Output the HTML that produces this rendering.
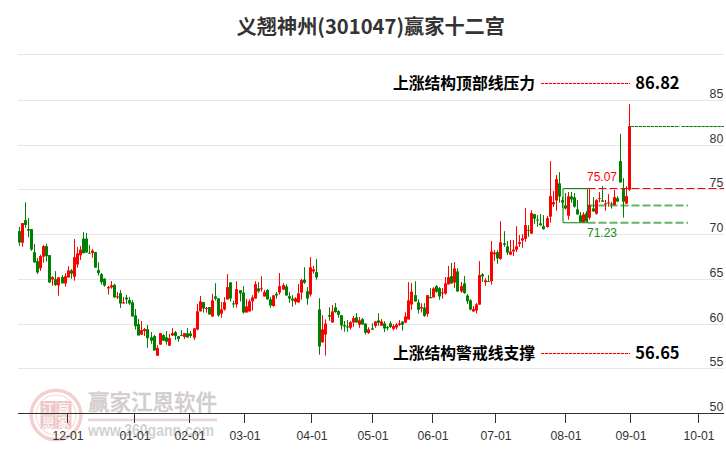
<!DOCTYPE html>
<html lang="zh-CN"><head><meta charset="utf-8"><title>义翘神州(301047)赢家十二宫</title>
<style>html,body{margin:0;padding:0;background:#fff;overflow:hidden}svg{display:block}text{font-family:"Liberation Sans","Noto Sans CJK SC",sans-serif}.cjk{font-family:"Noto Sans CJK SC","Liberation Sans",sans-serif;font-weight:700}.ax{font-size:13px;fill:#333}</style></head><body>
<svg width="726" height="450" viewBox="0 0 726 450">
<rect width="726" height="450" fill="#fff"/>
<g stroke="#e6e6e6" stroke-width="1" shape-rendering="crispEdges">
<line x1="18" x2="724" y1="54.5" y2="54.5"/>
<line x1="18" x2="724" y1="100.5" y2="100.5"/>
<line x1="18" x2="724" y1="145.5" y2="145.5"/>
<line x1="18" x2="724" y1="189.5" y2="189.5"/>
<line x1="18" x2="724" y1="234.5" y2="234.5"/>
<line x1="18" x2="724" y1="279.5" y2="279.5"/>
<line x1="18" x2="724" y1="324.5" y2="324.5"/>
<line x1="18" x2="724" y1="368.5" y2="368.5"/>
</g>
<g id="wm">
<g fill="none" stroke="#ecbcbc"><circle cx="56" cy="415" r="24.8" stroke-width="3.4" stroke-opacity=".7"/><circle cx="56" cy="415" r="20" stroke-width="1" stroke-opacity=".65"/></g>
<rect x="40.5" y="401" width="31" height="28" rx="2" fill="#e9b6b6" fill-opacity=".8"/><path d="M56 401V429M40.5 415H71.5" stroke="#f6e3e3" stroke-width="1.2"/>
<g font-size="13" fill="#fbf1f1" text-anchor="middle"><text class="cjk" x="48.2" y="412.8">江</text><text class="cjk" x="63.8" y="412.8">赢</text><text class="cjk" x="48.2" y="426.8">恩</text><text class="cjk" x="63.8" y="426.8">家</text></g>
<text x="88" y="409.5" font-size="21.5" fill="#d2cccc" stroke="#d2cccc" stroke-width=".35" style="font-family:'Noto Sans CJK SC',sans-serif;font-weight:500" textLength="129" lengthAdjust="spacingAndGlyphs">赢家江恩软件</text>
<rect x="88" y="418.6" width="129" height="2.6" fill="#ebd5d5"/>
<text x="88" y="435.8" font-size="17" fill="#d2d2d2" font-weight="700" textLength="126" lengthAdjust="spacingAndGlyphs">www.360gann.com</text>
</g>
<g stroke="#333" stroke-width="1" shape-rendering="crispEdges">
<line x1="18" x2="724" y1="413.5" y2="413.5"/>
<line x1="67.5" x2="67.5" y1="413" y2="423"/>
<line x1="134.5" x2="134.5" y1="413" y2="423"/>
<line x1="189.5" x2="189.5" y1="413" y2="423"/>
<line x1="244.5" x2="244.5" y1="413" y2="423"/>
<line x1="311.5" x2="311.5" y1="413" y2="423"/>
<line x1="372.5" x2="372.5" y1="413" y2="423"/>
<line x1="432.5" x2="432.5" y1="413" y2="423"/>
<line x1="495.5" x2="495.5" y1="413" y2="423"/>
<line x1="565.5" x2="565.5" y1="413" y2="423"/>
<line x1="630.5" x2="630.5" y1="413" y2="423"/>
<line x1="698.5" x2="698.5" y1="413" y2="423"/>
</g>
<g class="ax" text-anchor="middle">
<text x="68.0" y="439.9" textLength="31.2" lengthAdjust="spacingAndGlyphs">12-01</text>
<text x="135.0" y="439.9" textLength="31.2" lengthAdjust="spacingAndGlyphs">01-01</text>
<text x="190.0" y="439.9" textLength="31.2" lengthAdjust="spacingAndGlyphs">02-01</text>
<text x="245.0" y="439.9" textLength="31.2" lengthAdjust="spacingAndGlyphs">03-01</text>
<text x="312.0" y="439.9" textLength="31.2" lengthAdjust="spacingAndGlyphs">04-01</text>
<text x="373.0" y="439.9" textLength="31.2" lengthAdjust="spacingAndGlyphs">05-01</text>
<text x="433.0" y="439.9" textLength="31.2" lengthAdjust="spacingAndGlyphs">06-01</text>
<text x="496.0" y="439.9" textLength="31.2" lengthAdjust="spacingAndGlyphs">07-01</text>
<text x="566.0" y="439.9" textLength="31.2" lengthAdjust="spacingAndGlyphs">08-01</text>
<text x="631.0" y="439.9" textLength="31.2" lengthAdjust="spacingAndGlyphs">09-01</text>
<text x="699.0" y="439.9" textLength="31.2" lengthAdjust="spacingAndGlyphs">10-01</text>
</g>
<g class="ax" text-anchor="end">
<text x="723.3" y="97.9" textLength="13.7" lengthAdjust="spacingAndGlyphs">85</text>
<text x="723.3" y="142.9" textLength="13.7" lengthAdjust="spacingAndGlyphs">80</text>
<text x="723.3" y="186.9" textLength="13.7" lengthAdjust="spacingAndGlyphs">75</text>
<text x="723.3" y="231.9" textLength="13.7" lengthAdjust="spacingAndGlyphs">70</text>
<text x="723.3" y="276.9" textLength="13.7" lengthAdjust="spacingAndGlyphs">65</text>
<text x="723.3" y="321.9" textLength="13.7" lengthAdjust="spacingAndGlyphs">60</text>
<text x="723.3" y="365.9" textLength="13.7" lengthAdjust="spacingAndGlyphs">55</text>
<text x="723.3" y="410.9" textLength="13.7" lengthAdjust="spacingAndGlyphs">50</text>
</g>
<path d="M631 126.5H679.5M681.5 126.5H724" stroke="#008000" stroke-width="1" stroke-dasharray="3.3 .7" fill="none"/>
<g fill="#008000">
<rect x="19" y="227.0" width="1" height="18.8"/><rect x="18" y="231.1" width="3" height="11.5" rx=".6"/>
<rect x="25" y="202.2" width="1" height="25.5"/><rect x="24" y="220.1" width="3" height="4.8" rx=".6"/>
<rect x="28" y="218.0" width="1" height="19.3"/><rect x="27" y="229.1" width="3" height="1.6" rx=".6"/>
<rect x="31" y="229.1" width="1" height="21.7"/><rect x="30" y="229.1" width="3" height="20.4" rx=".6"/>
<rect x="34" y="244.1" width="1" height="18.5"/><rect x="33" y="252.0" width="3" height="10.6" rx=".6"/>
<rect x="37" y="258.1" width="1" height="15.8"/><rect x="36" y="260.9" width="3" height="11.7" rx=".6"/>
<rect x="46" y="243.9" width="1" height="17.6"/><rect x="45" y="246.1" width="3" height="10.2" rx=".6"/>
<rect x="49" y="254.9" width="1" height="27.7"/><rect x="48" y="254.9" width="3" height="27.7" rx=".6"/>
<rect x="55" y="271.1" width="1" height="14.9"/><rect x="54" y="279.0" width="3" height="6.0" rx=".6"/>
<rect x="62" y="275.1" width="1" height="8.3"/><rect x="61" y="277.1" width="3" height="6.3" rx=".6"/>
<rect x="71" y="269.0" width="1" height="9.7"/><rect x="70" y="270.2" width="3" height="3.6" rx=".6"/>
<rect x="83" y="232.1" width="1" height="21.2"/><rect x="82" y="238.4" width="3" height="14.9" rx=".6"/>
<rect x="86" y="232.9" width="1" height="19.7"/><rect x="85" y="238.4" width="3" height="14.2" rx=".6"/>
<rect x="89" y="245.1" width="1" height="8.5"/><rect x="88" y="252.8" width="3" height="1.0" rx=".6"/>
<rect x="95" y="251.9" width="1" height="15.8"/><rect x="94" y="251.9" width="3" height="15.8" rx=".6"/>
<rect x="98" y="262.2" width="1" height="13.4"/><rect x="97" y="270.1" width="3" height="3.2" rx=".6"/>
<rect x="101" y="273.0" width="1" height="11.6"/><rect x="100" y="274.0" width="3" height="8.3" rx=".6"/>
<rect x="104" y="278.5" width="1" height="8.3"/><rect x="103" y="278.5" width="3" height="7.1" rx=".6"/>
<rect x="114" y="283.8" width="1" height="13.8"/><rect x="113" y="284.8" width="3" height="12.8" rx=".6"/>
<rect x="120" y="290.0" width="1" height="17.9"/><rect x="119" y="293.1" width="3" height="10.4" rx=".6"/>
<rect x="126" y="294.9" width="1" height="8.9"/><rect x="125" y="297.6" width="3" height="1.8" rx=".6"/>
<rect x="129" y="296.9" width="1" height="8.0"/><rect x="128" y="300.0" width="3" height="3.5" rx=".6"/>
<rect x="132" y="300.0" width="1" height="16.5"/><rect x="131" y="302.2" width="3" height="14.3" rx=".6"/>
<rect x="135" y="309.0" width="1" height="20.6"/><rect x="134" y="315.2" width="3" height="11.0" rx=".6"/>
<rect x="138" y="319.0" width="1" height="16.5"/><rect x="137" y="324.1" width="3" height="11.4" rx=".6"/>
<rect x="147" y="324.9" width="1" height="22.8"/><rect x="146" y="329.1" width="3" height="9.1" rx=".6"/>
<rect x="151" y="332.0" width="1" height="11.8"/><rect x="150" y="337.2" width="3" height="3.6" rx=".6"/>
<rect x="154" y="335.0" width="1" height="15.6"/><rect x="153" y="336.0" width="3" height="14.6" rx=".6"/>
<rect x="163" y="334.0" width="1" height="6.8"/><rect x="162" y="335.0" width="3" height="5.8" rx=".6"/>
<rect x="166" y="331.1" width="1" height="13.6"/><rect x="165" y="337.2" width="3" height="4.6" rx=".6"/>
<rect x="175" y="331.0" width="1" height="8.9"/><rect x="174" y="332.0" width="3" height="3.9" rx=".6"/>
<rect x="178" y="335.9" width="1" height="5.9"/><rect x="177" y="335.9" width="3" height="3.0" rx=".6"/>
<rect x="181" y="330.1" width="1" height="5.7"/><rect x="180" y="335.0" width="3" height="1.0" rx=".6"/>
<rect x="187" y="328.1" width="1" height="9.5"/><rect x="186" y="333.3" width="3" height="4.3" rx=".6"/>
<rect x="190" y="331.0" width="1" height="6.9"/><rect x="189" y="333.3" width="3" height="2.7" rx=".6"/>
<rect x="203" y="302.1" width="1" height="10.5"/><rect x="202" y="302.1" width="3" height="6.4" rx=".6"/>
<rect x="209" y="307.1" width="1" height="7.5"/><rect x="208" y="307.1" width="3" height="7.5" rx=".6"/>
<rect x="215" y="283.2" width="1" height="17.3"/><rect x="214" y="296.2" width="3" height="2.6" rx=".6"/>
<rect x="218" y="298.3" width="1" height="18.4"/><rect x="217" y="298.3" width="3" height="17.1" rx=".6"/>
<rect x="230" y="282.2" width="1" height="19.3"/><rect x="229" y="282.2" width="3" height="16.3" rx=".6"/>
<rect x="233" y="300.8" width="1" height="6.8"/><rect x="232" y="303.2" width="3" height="1.2" rx=".6"/>
<rect x="240" y="290.0" width="1" height="11.5"/><rect x="239" y="290.0" width="3" height="3.5" rx=".6"/>
<rect x="243" y="286.1" width="1" height="27.6"/><rect x="242" y="292.5" width="3" height="20.1" rx=".6"/>
<rect x="258" y="282.2" width="1" height="10.6"/><rect x="257" y="288.2" width="3" height="3.4" rx=".6"/>
<rect x="267" y="289.0" width="1" height="10.4"/><rect x="266" y="290.1" width="3" height="9.3" rx=".6"/>
<rect x="270" y="296.9" width="1" height="10.8"/><rect x="269" y="299.2" width="3" height="6.3" rx=".6"/>
<rect x="276" y="292.0" width="1" height="6.7"/><rect x="275" y="293.8" width="3" height="1.8" rx=".6"/>
<rect x="286" y="284.1" width="1" height="11.5"/><rect x="285" y="286.2" width="3" height="9.4" rx=".6"/>
<rect x="289" y="292.2" width="1" height="10.6"/><rect x="288" y="296.1" width="3" height="2.6" rx=".6"/>
<rect x="292" y="295.1" width="1" height="11.6"/><rect x="291" y="298.5" width="3" height="2.1" rx=".6"/>
<rect x="304" y="267.2" width="1" height="16.6"/><rect x="303" y="279.4" width="3" height="3.4" rx=".6"/>
<rect x="307" y="287.1" width="1" height="17.6"/><rect x="306" y="291.0" width="3" height="7.7" rx=".6"/>
<rect x="316" y="259.1" width="1" height="20.5"/><rect x="315" y="272.1" width="3" height="5.4" rx=".6"/>
<rect x="319" y="298.2" width="1" height="56.5"/><rect x="318" y="309.2" width="3" height="37.3" rx=".6"/>
<rect x="329" y="307.2" width="1" height="13.7"/><rect x="328" y="315.1" width="3" height="1.6" rx=".6"/>
<rect x="335" y="303.0" width="1" height="9.8"/><rect x="334" y="307.2" width="3" height="4.9" rx=".6"/>
<rect x="338" y="310.2" width="1" height="7.5"/><rect x="337" y="310.9" width="3" height="3.9" rx=".6"/>
<rect x="341" y="315.1" width="1" height="14.6"/><rect x="340" y="315.1" width="3" height="10.4" rx=".6"/>
<rect x="344" y="320.9" width="1" height="10.8"/><rect x="343" y="325.1" width="3" height="1.4" rx=".6"/>
<rect x="347" y="319.9" width="1" height="11.8"/><rect x="346" y="326.3" width="3" height="1.2" rx=".6"/>
<rect x="356" y="313.1" width="1" height="9.5"/><rect x="355" y="317.3" width="3" height="5.3" rx=".6"/>
<rect x="362" y="318.0" width="1" height="6.5"/><rect x="361" y="319.0" width="3" height="5.5" rx=".6"/>
<rect x="365" y="323.4" width="1" height="11.2"/><rect x="364" y="323.4" width="3" height="9.3" rx=".6"/>
<rect x="372" y="323.2" width="1" height="6.5"/><rect x="371" y="328.3" width="3" height="1.4" rx=".6"/>
<rect x="378" y="313.2" width="1" height="12.5"/><rect x="377" y="320.3" width="3" height="2.5" rx=".6"/>
<rect x="384" y="321.2" width="1" height="10.8"/><rect x="383" y="323.2" width="3" height="5.4" rx=".6"/>
<rect x="387" y="326.1" width="1" height="4.4"/><rect x="386" y="327.1" width="3" height="1.2" rx=".6"/>
<rect x="390" y="321.2" width="1" height="6.7"/><rect x="389" y="323.2" width="3" height="3.9" rx=".6"/>
<rect x="402" y="321.2" width="1" height="9.3"/><rect x="401" y="321.4" width="3" height="3.3" rx=".6"/>
<rect x="415" y="281.2" width="1" height="20.3"/><rect x="414" y="295.1" width="3" height="6.4" rx=".6"/>
<rect x="418" y="299.2" width="1" height="14.4"/><rect x="417" y="302.2" width="3" height="7.5" rx=".6"/>
<rect x="424" y="303.2" width="1" height="13.6"/><rect x="423" y="307.4" width="3" height="8.5" rx=".6"/>
<rect x="430" y="288.1" width="1" height="10.2"/><rect x="429" y="297.0" width="3" height="1.3" rx=".6"/>
<rect x="436" y="285.1" width="1" height="7.7"/><rect x="435" y="286.1" width="3" height="5.7" rx=".6"/>
<rect x="439" y="287.1" width="1" height="12.7"/><rect x="438" y="288.1" width="3" height="8.5" rx=".6"/>
<rect x="451" y="263.0" width="1" height="20.6"/><rect x="450" y="276.0" width="3" height="7.6" rx=".6"/>
<rect x="457" y="268.2" width="1" height="23.4"/><rect x="456" y="271.2" width="3" height="20.4" rx=".6"/>
<rect x="464" y="276.0" width="1" height="18.0"/><rect x="463" y="283.2" width="3" height="9.8" rx=".6"/>
<rect x="467" y="294.0" width="1" height="9.8"/><rect x="466" y="295.5" width="3" height="5.8" rx=".6"/>
<rect x="470" y="299.2" width="1" height="11.4"/><rect x="469" y="300.2" width="3" height="9.4" rx=".6"/>
<rect x="482" y="273.2" width="1" height="8.6"/><rect x="481" y="274.2" width="3" height="2.2" rx=".6"/>
<rect x="488" y="275.1" width="1" height="6.7"/><rect x="487" y="281.0" width="3" height="1.0" rx=".6"/>
<rect x="497" y="250.1" width="1" height="13.7"/><rect x="496" y="252.0" width="3" height="6.6" rx=".6"/>
<rect x="504" y="231.2" width="1" height="15.7"/><rect x="503" y="243.2" width="3" height="1.7" rx=".6"/>
<rect x="507" y="241.0" width="1" height="14.0"/><rect x="506" y="246.2" width="3" height="6.5" rx=".6"/>
<rect x="528" y="225.1" width="1" height="11.7"/><rect x="527" y="229.7" width="3" height="1.0" rx=".6"/>
<rect x="534" y="214.1" width="1" height="9.8"/><rect x="533" y="214.1" width="3" height="4.6" rx=".6"/>
<rect x="537" y="215.1" width="1" height="11.7"/><rect x="536" y="219.5" width="3" height="1.0" rx=".6"/>
<rect x="540" y="214.1" width="1" height="11.7"/><rect x="539" y="223.2" width="3" height="2.1" rx=".6"/>
<rect x="543" y="215.1" width="1" height="14.6"/><rect x="542" y="226.1" width="3" height="3.1" rx=".6"/>
<rect x="559" y="172.1" width="1" height="30.6"/><rect x="558" y="183.3" width="3" height="13.3" rx=".6"/>
<rect x="562" y="197.0" width="1" height="11.0"/><rect x="561" y="200.0" width="3" height="2.5" rx=".6"/>
<rect x="565" y="193.0" width="1" height="16.6"/><rect x="564" y="205.3" width="3" height="3.3" rx=".6"/>
<rect x="571" y="192.0" width="1" height="10.6"/><rect x="570" y="196.2" width="3" height="3.4" rx=".6"/>
<rect x="574" y="193.0" width="1" height="14.7"/><rect x="573" y="197.2" width="3" height="9.5" rx=".6"/>
<rect x="577" y="200.1" width="1" height="14.4"/><rect x="576" y="209.2" width="3" height="5.3" rx=".6"/>
<rect x="580" y="212.2" width="1" height="9.9"/><rect x="579" y="215.3" width="3" height="6.8" rx=".6"/>
<rect x="586" y="211.2" width="1" height="10.4"/><rect x="585" y="213.3" width="3" height="8.3" rx=".6"/>
<rect x="593" y="197.2" width="1" height="14.4"/><rect x="592" y="208.2" width="3" height="3.4" rx=".6"/>
<rect x="602" y="186.1" width="1" height="15.7"/><rect x="601" y="200.2" width="3" height="1.6" rx=".6"/>
<rect x="611" y="202.0" width="1" height="6.6"/><rect x="610" y="203.4" width="3" height="1.0" rx=".6"/>
<rect x="617" y="196.1" width="1" height="5.6"/><rect x="616" y="198.1" width="3" height="3.6" rx=".6"/>
<rect x="620" y="133.9" width="1" height="48.6"/><rect x="619" y="161.0" width="3" height="21.5" rx=".6"/>
<rect x="623" y="178.1" width="1" height="39.5"/><rect x="622" y="188.6" width="3" height="13.1" rx=".6"/>
</g>
<g fill="#ff0000">
<rect x="22" y="223.1" width="1" height="23.6"/><rect x="21" y="223.1" width="3" height="19.7" rx=".6"/>
<rect x="40" y="254.7" width="1" height="16.2"/><rect x="39" y="256.0" width="3" height="12.4" rx=".6"/>
<rect x="43" y="245.0" width="1" height="17.7"/><rect x="42" y="246.1" width="3" height="10.6" rx=".6"/>
<rect x="52" y="276.1" width="1" height="9.6"/><rect x="51" y="277.1" width="3" height="2.5" rx=".6"/>
<rect x="58" y="277.2" width="1" height="18.5"/><rect x="57" y="277.2" width="3" height="8.4" rx=".6"/>
<rect x="65" y="273.2" width="1" height="13.4"/><rect x="64" y="276.1" width="3" height="7.4" rx=".6"/>
<rect x="68" y="266.2" width="1" height="11.3"/><rect x="67" y="270.2" width="3" height="7.3" rx=".6"/>
<rect x="74" y="239.1" width="1" height="41.6"/><rect x="73" y="257.1" width="3" height="19.7" rx=".6"/>
<rect x="77" y="247.1" width="1" height="20.5"/><rect x="76" y="253.3" width="3" height="11.3" rx=".6"/>
<rect x="80" y="246.1" width="1" height="13.8"/><rect x="79" y="249.4" width="3" height="5.9" rx=".6"/>
<rect x="92" y="248.9" width="1" height="8.8"/><rect x="91" y="250.5" width="3" height="2.5" rx=".6"/>
<rect x="108" y="285.8" width="1" height="8.8"/><rect x="107" y="287.0" width="3" height="1.4" rx=".6"/>
<rect x="111" y="281.1" width="1" height="7.6"/><rect x="110" y="285.2" width="3" height="2.4" rx=".6"/>
<rect x="117" y="292.1" width="1" height="6.9"/><rect x="116" y="296.2" width="3" height="1.4" rx=".6"/>
<rect x="123" y="296.9" width="1" height="6.6"/><rect x="122" y="302.2" width="3" height="1.3" rx=".6"/>
<rect x="141" y="321.0" width="1" height="13.7"/><rect x="140" y="330.1" width="3" height="4.6" rx=".6"/>
<rect x="144" y="328.1" width="1" height="7.9"/><rect x="143" y="329.1" width="3" height="1.9" rx=".6"/>
<rect x="157" y="345.0" width="1" height="10.8"/><rect x="156" y="347.8" width="3" height="8.0" rx=".6"/>
<rect x="160" y="333.0" width="1" height="11.7"/><rect x="159" y="333.0" width="3" height="11.7" rx=".6"/>
<rect x="169" y="334.0" width="1" height="11.7"/><rect x="168" y="337.9" width="3" height="7.8" rx=".6"/>
<rect x="172" y="328.1" width="1" height="7.9"/><rect x="171" y="333.0" width="3" height="2.5" rx=".6"/>
<rect x="184" y="333.0" width="1" height="5.9"/><rect x="183" y="333.0" width="3" height="3.9" rx=".6"/>
<rect x="194" y="328.2" width="1" height="11.8"/><rect x="193" y="328.2" width="3" height="9.5" rx=".6"/>
<rect x="197" y="304.1" width="1" height="26.2"/><rect x="196" y="311.3" width="3" height="18.2" rx=".6"/>
<rect x="200" y="295.9" width="1" height="15.5"/><rect x="199" y="301.2" width="3" height="10.2" rx=".6"/>
<rect x="206" y="307.0" width="1" height="5.6"/><rect x="205" y="308.1" width="3" height="1.0" rx=".6"/>
<rect x="212" y="293.9" width="1" height="22.6"/><rect x="211" y="300.2" width="3" height="16.3" rx=".6"/>
<rect x="221" y="302.1" width="1" height="15.6"/><rect x="220" y="309.3" width="3" height="4.5" rx=".6"/>
<rect x="224" y="297.3" width="1" height="13.4"/><rect x="223" y="302.1" width="3" height="7.5" rx=".6"/>
<rect x="227" y="274.1" width="1" height="25.4"/><rect x="226" y="287.1" width="3" height="12.4" rx=".6"/>
<rect x="236" y="281.2" width="1" height="26.4"/><rect x="235" y="289.1" width="3" height="15.3" rx=".6"/>
<rect x="246" y="299.1" width="1" height="13.5"/><rect x="245" y="306.2" width="3" height="6.4" rx=".6"/>
<rect x="249" y="299.2" width="1" height="12.3"/><rect x="248" y="301.2" width="3" height="10.3" rx=".6"/>
<rect x="252" y="295.2" width="1" height="15.4"/><rect x="251" y="297.3" width="3" height="4.1" rx=".6"/>
<rect x="255" y="281.2" width="1" height="17.4"/><rect x="254" y="284.0" width="3" height="14.6" rx=".6"/>
<rect x="261" y="276.3" width="1" height="15.3"/><rect x="260" y="288.2" width="3" height="1.2" rx=".6"/>
<rect x="264" y="290.1" width="1" height="6.4"/><rect x="263" y="292.0" width="3" height="4.5" rx=".6"/>
<rect x="273" y="295.2" width="1" height="11.5"/><rect x="272" y="295.2" width="3" height="10.8" rx=".6"/>
<rect x="279" y="273.1" width="1" height="21.6"/><rect x="278" y="286.1" width="3" height="6.6" rx=".6"/>
<rect x="283" y="283.1" width="1" height="6.6"/><rect x="282" y="285.1" width="3" height="4.6" rx=".6"/>
<rect x="295" y="297.2" width="1" height="7.5"/><rect x="294" y="298.2" width="3" height="3.9" rx=".6"/>
<rect x="298" y="284.1" width="1" height="18.5"/><rect x="297" y="293.2" width="3" height="9.4" rx=".6"/>
<rect x="301" y="278.9" width="1" height="20.7"/><rect x="300" y="279.9" width="3" height="12.8" rx=".6"/>
<rect x="310" y="257.1" width="1" height="39.5"/><rect x="309" y="267.2" width="3" height="27.4" rx=".6"/>
<rect x="313" y="265.9" width="1" height="7.7"/><rect x="312" y="269.2" width="3" height="2.4" rx=".6"/>
<rect x="322" y="315.1" width="1" height="27.3"/><rect x="321" y="329.2" width="3" height="13.2" rx=".6"/>
<rect x="325" y="319.4" width="1" height="36.2"/><rect x="324" y="323.4" width="3" height="11.1" rx=".6"/>
<rect x="332" y="305.0" width="1" height="17.6"/><rect x="331" y="311.2" width="3" height="11.4" rx=".6"/>
<rect x="350" y="320.9" width="1" height="8.8"/><rect x="349" y="321.9" width="3" height="5.9" rx=".6"/>
<rect x="353" y="316.0" width="1" height="10.8"/><rect x="352" y="318.0" width="3" height="4.6" rx=".6"/>
<rect x="359" y="317.0" width="1" height="10.8"/><rect x="358" y="320.2" width="3" height="4.6" rx=".6"/>
<rect x="368" y="327.3" width="1" height="6.6"/><rect x="367" y="329.2" width="3" height="3.9" rx=".6"/>
<rect x="375" y="321.2" width="1" height="6.5"/><rect x="374" y="321.2" width="3" height="4.8" rx=".6"/>
<rect x="381" y="319.1" width="1" height="6.6"/><rect x="380" y="321.2" width="3" height="4.5" rx=".6"/>
<rect x="393" y="324.2" width="1" height="6.3"/><rect x="392" y="326.1" width="3" height="2.8" rx=".6"/>
<rect x="396" y="323.2" width="1" height="6.3"/><rect x="395" y="324.4" width="3" height="3.2" rx=".6"/>
<rect x="399" y="320.1" width="1" height="5.8"/><rect x="398" y="323.2" width="3" height="1.8" rx=".6"/>
<rect x="405" y="312.2" width="1" height="10.5"/><rect x="404" y="316.3" width="3" height="6.4" rx=".6"/>
<rect x="408" y="282.2" width="1" height="37.3"/><rect x="407" y="300.2" width="3" height="19.3" rx=".6"/>
<rect x="411" y="283.2" width="1" height="26.5"/><rect x="410" y="291.4" width="3" height="13.2" rx=".6"/>
<rect x="421" y="303.2" width="1" height="9.2"/><rect x="420" y="307.1" width="3" height="1.4" rx=".6"/>
<rect x="427" y="295.0" width="1" height="21.8"/><rect x="426" y="295.0" width="3" height="18.9" rx=".6"/>
<rect x="433" y="287.1" width="1" height="10.4"/><rect x="432" y="288.3" width="3" height="9.2" rx=".6"/>
<rect x="442" y="288.1" width="1" height="10.4"/><rect x="441" y="292.2" width="3" height="1.2" rx=".6"/>
<rect x="445" y="277.0" width="1" height="17.6"/><rect x="444" y="283.2" width="3" height="10.4" rx=".6"/>
<rect x="448" y="266.0" width="1" height="18.5"/><rect x="447" y="277.0" width="3" height="7.5" rx=".6"/>
<rect x="454" y="262.1" width="1" height="25.7"/><rect x="453" y="268.2" width="3" height="14.4" rx=".6"/>
<rect x="461" y="282.1" width="1" height="10.6"/><rect x="460" y="286.0" width="3" height="5.6" rx=".6"/>
<rect x="473" y="306.2" width="1" height="5.4"/><rect x="472" y="309.1" width="3" height="2.5" rx=".6"/>
<rect x="476" y="303.1" width="1" height="10.4"/><rect x="475" y="304.3" width="3" height="6.3" rx=".6"/>
<rect x="479" y="261.1" width="1" height="43.6"/><rect x="478" y="275.1" width="3" height="29.6" rx=".6"/>
<rect x="485" y="278.1" width="1" height="7.6"/><rect x="484" y="280.3" width="3" height="2.0" rx=".6"/>
<rect x="491" y="241.0" width="1" height="43.7"/><rect x="490" y="251.4" width="3" height="29.9" rx=".6"/>
<rect x="494" y="250.1" width="1" height="10.7"/><rect x="493" y="252.5" width="3" height="1.8" rx=".6"/>
<rect x="500" y="221.2" width="1" height="38.7"/><rect x="499" y="242.3" width="3" height="16.6" rx=".6"/>
<rect x="510" y="240.0" width="1" height="14.7"/><rect x="509" y="251.4" width="3" height="3.3" rx=".6"/>
<rect x="513" y="240.0" width="1" height="15.9"/><rect x="512" y="249.4" width="3" height="2.0" rx=".6"/>
<rect x="516" y="226.1" width="1" height="25.9"/><rect x="515" y="246.2" width="3" height="3.6" rx=".6"/>
<rect x="519" y="235.1" width="1" height="11.8"/><rect x="518" y="242.0" width="3" height="1.9" rx=".6"/>
<rect x="522" y="234.1" width="1" height="13.7"/><rect x="521" y="238.3" width="3" height="2.3" rx=".6"/>
<rect x="525" y="208.2" width="1" height="33.6"/><rect x="524" y="225.1" width="3" height="13.7" rx=".6"/>
<rect x="531" y="210.2" width="1" height="23.5"/><rect x="530" y="213.1" width="3" height="20.6" rx=".6"/>
<rect x="547" y="216.0" width="1" height="11.7"/><rect x="546" y="218.0" width="3" height="9.0" rx=".6"/>
<rect x="550" y="161.1" width="1" height="61.5"/><rect x="549" y="196.1" width="3" height="20.6" rx=".6"/>
<rect x="553" y="191.1" width="1" height="15.7"/><rect x="552" y="202.1" width="3" height="2.4" rx=".6"/>
<rect x="556" y="175.0" width="1" height="35.7"/><rect x="555" y="179.0" width="3" height="21.5" rx=".6"/>
<rect x="568" y="192.0" width="1" height="27.7"/><rect x="567" y="196.2" width="3" height="19.6" rx=".6"/>
<rect x="583" y="212.2" width="1" height="10.1"/><rect x="582" y="214.3" width="3" height="8.0" rx=".6"/>
<rect x="589" y="188.4" width="1" height="31.3"/><rect x="588" y="205.0" width="3" height="12.7" rx=".6"/>
<rect x="596" y="199.2" width="1" height="15.5"/><rect x="595" y="200.1" width="3" height="13.7" rx=".6"/>
<rect x="599" y="192.1" width="1" height="10.3"/><rect x="598" y="198.0" width="3" height="1.0" rx=".6"/>
<rect x="605" y="200.0" width="1" height="10.7"/><rect x="604" y="203.3" width="3" height="1.1" rx=".6"/>
<rect x="608" y="194.1" width="1" height="12.6"/><rect x="607" y="202.2" width="3" height="1.2" rx=".6"/>
<rect x="614" y="190.0" width="1" height="15.6"/><rect x="613" y="196.9" width="3" height="8.1" rx=".6"/>
<rect x="626" y="186.1" width="1" height="17.6"/><rect x="625" y="196.1" width="3" height="7.6" rx=".6"/>
<rect x="629" y="104.2" width="1" height="86.6"/><rect x="628" y="125.9" width="3" height="63.9" rx=".6"/>
</g>
<rect x="563" y="188.5" width="24.5" height="34.3" rx="1" fill="none" stroke="#0a800a" stroke-width="1.05"/>
<line x1="587.5" x2="688" y1="205.5" y2="205.5" stroke="#008000" stroke-opacity=".6" stroke-width="1.8" stroke-dasharray="8 3"/>
<line x1="587.5" x2="688" y1="222.8" y2="222.8" stroke="#008000" stroke-opacity=".6" stroke-width="2" stroke-dasharray="8 3"/>
<line x1="587.5" x2="724" y1="188.5" y2="188.5" stroke="#ff0000" stroke-width="1" stroke-dasharray="8 3"/>
<text x="587" y="180.6" font-size="12" fill="#ff0000">75.07</text>
<text x="587" y="236.8" font-size="12" fill="#1a8a1a">71.23</text>
<text class="cjk" x="393" y="89.3" font-size="16" fill="#000" textLength="142" lengthAdjust="spacingAndGlyphs">上涨结构顶部线压力</text>
<line x1="541" x2="630" y1="83.5" y2="83.5" stroke="#ff0000" stroke-width="1" stroke-dasharray="3.3 .7"/>
<text class="cjk" x="635.3" y="89.2" font-size="16.5" fill="#000">86.82</text>
<text class="cjk" x="393" y="359.3" font-size="16" fill="#000" textLength="142" lengthAdjust="spacingAndGlyphs">上涨结构警戒线支撑</text>
<line x1="541" x2="630" y1="353.5" y2="353.5" stroke="#ff0000" stroke-width="1" stroke-dasharray="3.3 .7"/>
<text class="cjk" x="635.3" y="359.2" font-size="16.5" fill="#000">56.65</text>
<text class="cjk" x="370.8" y="33.6" font-size="20.2" fill="#333" text-anchor="middle">义翘神州(301047)赢家十二宫</text>
</svg></body></html>
